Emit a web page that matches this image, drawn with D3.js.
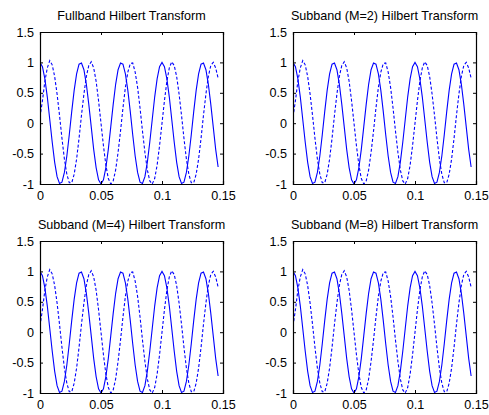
<!DOCTYPE html>
<html>
<head>
<meta charset="utf-8">
<script src="https://cdn.jsdelivr.net/npm/d3@7"></script>
<style>
  body { margin: 0; background: #fff; }
  svg { display: block; font-family: "Liberation Sans", Arial, sans-serif; }
</style>
</head>
<body>
<div id="chart"></div>
<script>
// panel titles
const titles = [
  "Fullband Hilbert Transform",
  "Subband (M=2) Hilbert Transform",
  "Subband (M=4) Hilbert Transform",
  "Subband (M=8) Hilbert Transform"
];

// sample times (s)
const time = [0,0.002,0.004,0.006,0.008,0.010,0.012,0.014,0.016,0.018,
  0.020,0.022,0.024,0.026,0.028,0.030,0.032,0.034,0.036,0.038,
  0.040,0.042,0.044,0.046,0.048,0.050,0.052,0.054,0.056,0.058,
  0.060,0.062,0.064,0.066,0.068,0.070,0.072,0.074,0.076,0.078,
  0.080,0.082,0.084,0.086,0.088,0.090,0.092,0.094,0.096,0.098,
  0.100,0.102,0.104,0.106,0.108,0.110,0.112,0.114,0.116,0.118,
  0.120,0.122,0.124,0.126,0.128,0.130,0.132,0.134,0.136,0.138,
  0.140,0.142,0.144,0.146];

// original signal (solid)
const signal = [1.00,0.93,0.73,0.43,0.06,-0.31,-0.64,-0.88,-0.99,-0.97,
  -0.81,-0.54,-0.19,0.19,0.54,0.81,0.97,0.99,0.88,0.64,
  0.31,-0.06,-0.43,-0.73,-0.93,-1.00,-0.93,-0.73,-0.43,-0.06,
  0.31,0.64,0.88,0.99,0.97,0.81,0.54,0.19,-0.19,-0.54,
  -0.81,-0.97,-0.99,-0.88,-0.64,-0.31,0.06,0.43,0.73,0.93,
  1.00,0.93,0.73,0.43,0.06,-0.31,-0.64,-0.88,-0.99,-0.97,
  -0.81,-0.54,-0.19,0.19,0.54,0.81,0.97,0.99,0.88,0.64,
  0.31,-0.06,-0.43,-0.72];

// hilbert transform output (dashed)
const hilbert = [0.10,0.37,0.69,0.91,1.03,0.96,0.77,0.48,0.13,-0.25,
  -0.59,-0.84,-0.98,-0.98,-0.84,-0.59,-0.25,0.13,0.48,0.77,
  0.95,1.01,0.91,0.69,0.37,0.00,-0.37,-0.69,-0.91,-1.00,
  -0.95,-0.77,-0.48,-0.13,0.25,0.59,0.84,0.98,0.99,0.84,
  0.59,0.25,-0.13,-0.48,-0.77,-0.95,-1.00,-0.91,-0.69,-0.37,
  0.00,0.37,0.69,0.91,1.01,0.95,0.77,0.48,0.13,-0.25,
  -0.59,-0.84,-0.98,-0.98,-0.84,-0.59,-0.25,0.13,0.48,0.77,
  0.95,1.00,0.91,0.74];

const xTicks = [0, 0.05, 0.1, 0.15];
const yTicks = [-1, -0.5, 0, 0.5, 1, 1.5];

const W = 489, H = 415;
const svg = d3.select("#chart").append("svg")
  .attr("width", W)
  .attr("height", H);

// plot boxes: left, top for each panel
const boxes = [
  {left: 40, top: 32},
  {left: 293, top: 32},
  {left: 40, top: 241},
  {left: 293, top: 241}
];
const pw = 183, ph = 152;
const fontSize = "12.6px";

const fmt = d => String(d);

boxes.forEach(function(b, i) {
  const g = svg.append("g")
    .attr("transform", `translate(${b.left}, ${b.top})`);

  const x = d3.scaleLinear().domain([0, 0.15]).range([0, pw]);
  const y = d3.scaleLinear().domain([-1, 1.5]).range([ph, 0]);

  g.append("clipPath").attr("id", "clip" + i)
    .append("rect").attr("x", 0).attr("y", -1).attr("width", pw).attr("height", ph + 2);

  const line = (vals) => d3.line()
    .x((d, j) => x(time[j]))
    .y(d => y(d))(vals);

  // signal lines
  g.append("path")
    .attr("d", line(signal))
    .attr("clip-path", `url(#clip${i})`)
    .attr("fill", "none")
    .attr("stroke", "#0000ff")
    .attr("stroke-width", 1.1);

  g.append("path")
    .attr("d", line(hilbert))
    .attr("clip-path", `url(#clip${i})`)
    .attr("fill", "none")
    .attr("stroke", "#0000ff")
    .attr("stroke-width", 1.1)
    .attr("stroke-dasharray", "3,2");

  // axes, ticks inward on all sides
  g.append("g")
    .attr("transform", `translate(0, ${ph})`)
    .call(d3.axisBottom(x).tickValues(xTicks).tickSize(-3).tickPadding(7).tickFormat(fmt));
  g.append("g")
    .call(d3.axisTop(x).tickValues(xTicks).tickSize(-3).tickFormat(""));
  g.append("g")
    .call(d3.axisLeft(y).tickValues(yTicks).tickSize(-3).tickPadding(6).tickFormat(fmt));
  g.append("g")
    .attr("transform", `translate(${pw}, 0)`)
    .call(d3.axisRight(y).tickValues(yTicks).tickSize(-3).tickFormat(""));

  g.selectAll(".domain").attr("stroke", "#000").attr("stroke-width", 1.2);
  g.selectAll(".tick line").attr("stroke", "#000");
  g.selectAll(".tick text")
    .attr("fill", "#000")
    .style("font-size", fontSize)
    .style("font-family", "'Liberation Sans', Arial, sans-serif");

  // title
  g.append("text")
    .attr("x", pw / 2)
    .attr("y", -12)
    .attr("text-anchor", "middle")
    .style("font-size", fontSize)
    .attr("fill", "#000")
    .text(titles[i]);
});
</script>
</body>
</html>
